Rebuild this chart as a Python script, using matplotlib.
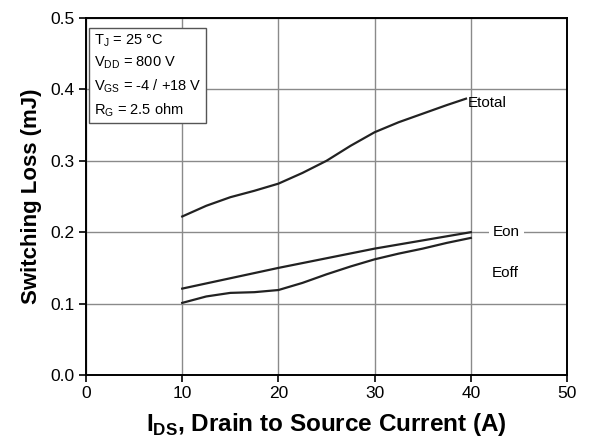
import numpy as np
import matplotlib
matplotlib.use("Agg")
from matplotlib import pyplot as plt

# 读图得到的数据点
i_ds = [10, 12.5, 15, 17.5, 20, 22.5, 25, 27.5, 30, 32.5, 35, 37.5, 39.5]
e_total = [0.222, 0.237, 0.249, 0.258, 0.268, 0.283, 0.300, 0.321, 0.340, 0.354, 0.366, 0.378, 0.387]

i_on = [10, 20, 30, 40]
e_on = [0.121, 0.150, 0.177, 0.200]

i_off = [10, 12.5, 15, 17.5, 20, 22.5, 25, 27.5, 30, 32.5, 35, 37.5, 40]
e_off = [0.101, 0.110, 0.115, 0.116, 0.119, 0.129, 0.141, 0.152, 0.162, 0.170, 0.177, 0.185, 0.192]

x_ticks = [0, 10, 20, 30, 40, 50]
y_ticks = [0.0, 0.1, 0.2, 0.3, 0.4, 0.5]

plt.rcParams['font.family'] = ['Liberation Sans', 'DejaVu Sans']
plt.rcParams['mathtext.fontset'] = 'custom'
plt.rcParams['mathtext.rm'] = 'Liberation Sans'
plt.rcParams['mathtext.bf'] = 'Liberation Sans:bold'

fig = plt.figure(figsize=(5.92, 4.44), dpi=100)
ax = fig.add_axes([0.1453, 0.1554, 0.8125, 0.8041])

ax.plot(i_ds, e_total, color='#222222', linewidth=1.6)
ax.plot(i_on, e_on, color='#222222', linewidth=1.6)
ax.plot(i_off, e_off, color='#222222', linewidth=1.6)

ax.set_xlim(0, 50)
ax.set_ylim(0, 0.5)
ax.set_xticks(x_ticks)
ax.set_yticks(y_ticks)
ax.set_yticklabels(['%.1f' % v for v in y_ticks])
ax.grid(True, color='#8a8a8a', linewidth=1.0)
ax.set_axisbelow(True)
for s in ax.spines.values():
    s.set_linewidth(1.4)
    s.set_color('black')
ax.tick_params(labelsize=12.5, direction='out', length=5, width=1.2, pad=3)

ax.set_ylabel('Switching Loss (mJ)', fontsize=16, fontweight='bold', labelpad=6)
ax.set_xlabel('I$_{\\mathbf{DS}}$, Drain to Source Current (A)', fontsize=17.5,
              fontweight='bold', labelpad=7)

# 曲线标签
ax.text(39.7, 0.381, 'Etotal', fontsize=11, va='center', ha='left')
ax.text(43.7, 0.2, 'Eon', fontsize=11, va='center', ha='center',
        bbox=dict(facecolor='white', edgecolor='none', pad=3))
ax.text(42.2, 0.143, 'Eoff', fontsize=11, va='center', ha='left')

# 条件框
cond = ('T$_\\mathregular{J}$ = 25 °C\n'
        'V$_\\mathregular{DD}$ = 800 V\n'
        'V$_\\mathregular{GS}$ = -4 / +18 V\n'
        'R$_\\mathregular{G}$ = 2.5 ohm')
ax.text(0.016, 0.96, cond, transform=ax.transAxes, fontsize=10.5, va='top', ha='left',
        linespacing=1.46,
        bbox=dict(facecolor='white', edgecolor='#555555', linewidth=1.0, boxstyle='square,pad=0.3'))

plt.savefig('out.png', dpi=100)
